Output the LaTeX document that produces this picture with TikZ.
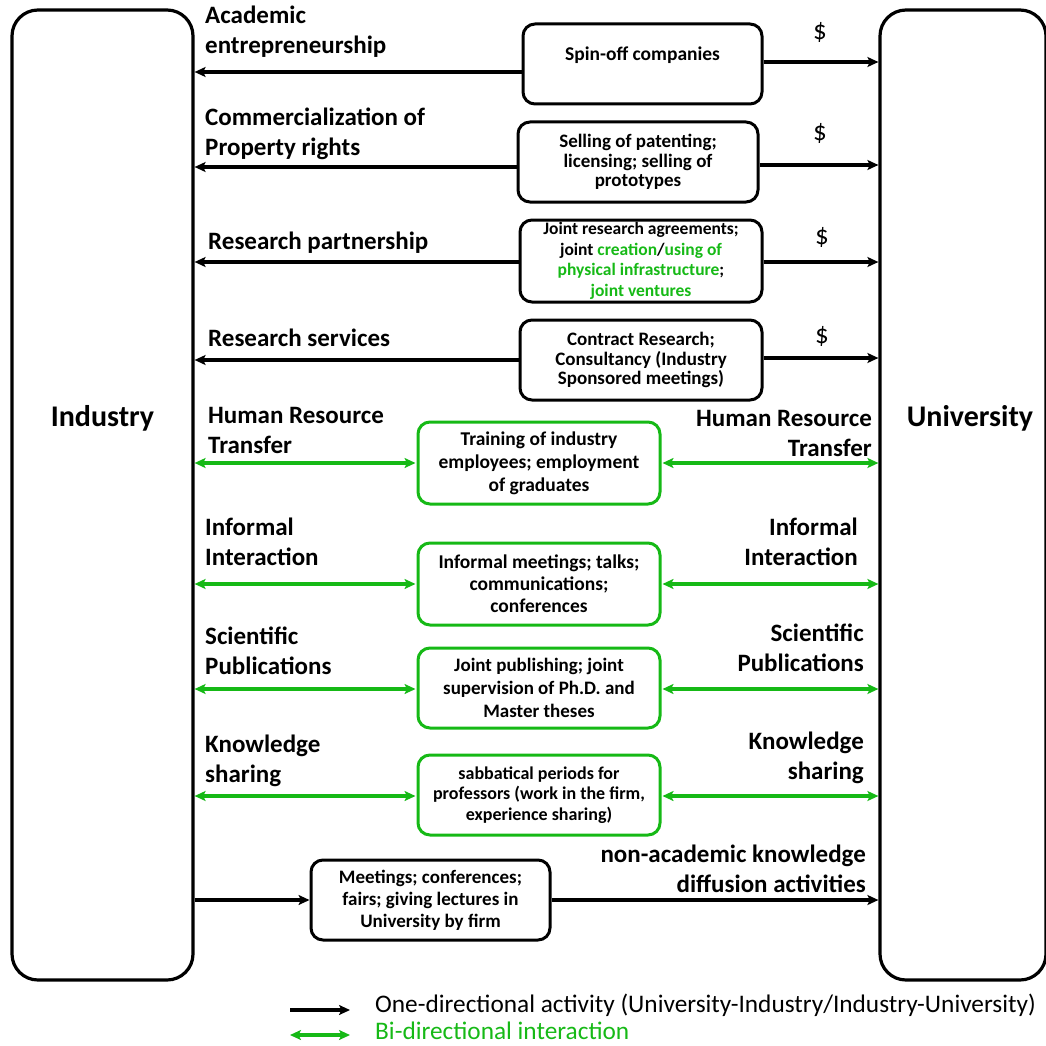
\documentclass[tikz,border=0pt]{standalone}
\usepackage{fontspec}
\setmainfont{Carlito}
\usetikzlibrary{arrows.meta}
\definecolor{grn}{RGB}{22,185,22}
\tikzset{
  bigbox/.style={draw=black, line width=3.2pt, rounded corners=26pt, minimum width=#1, inner sep=0pt},
  actbox/.style={draw=black, line width=3pt, rounded corners=12pt, minimum height=80pt, inner sep=2pt, align=center, font=\fontsize{19}{19.5}\selectfont\bfseries},
  gbox/.style={actbox, draw=grn},
  lbl/.style={font=\fontsize{25}{30}\selectfont\bfseries, inner sep=0pt},
  lbll/.style={lbl, anchor=north west, align=left},
  lblr/.style={lbl, anchor=north east, align=right},
  bigtxt/.style={font=\fontsize{30}{34}\selectfont\bfseries, inner sep=0pt},
  dollar/.style={font=\fontsize{27}{30}\selectfont, inner sep=0pt},
  one/.style={line width=3.4pt, -{Stealth[length=11pt,width=10pt,inset=2.5pt]}},
  two/.style={line width=3.4pt, draw=grn, {Stealth[length=11pt,width=10pt,inset=2.5pt]}-{Stealth[length=11pt,width=10pt,inset=2.5pt]}},
  leg/.style={font=\fontsize{25.3}{30}\selectfont, inner sep=0pt, anchor=west}
}
\begin{document}
\begin{tikzpicture}[x=1pt,y=-1pt]
\useasboundingbox (0,0) rectangle (1045,1046);
% main boxes
\node[bigbox=181pt, minimum height=970pt] (ind) at (102.5,495) {};
\node[bigbox=166pt, minimum height=970pt] (uni) at (963,495) {};
\node[bigtxt] (indt) at (102.5,418) {Industry};
\node[bigtxt] (unit) at (970,418) {University};

% activity boxes
\node[actbox, minimum width=239pt, font=\fontsize{19.5}{20}\selectfont\bfseries] (b1) at (642.5,64) {Spin-off companies\\\mbox{}};
\node[actbox, minimum width=240pt] (b2) at (638,162) {Selling of patenting;\\licensing; selling of\\prototypes};
\node[actbox, minimum width=242pt, minimum height=82pt, font=\fontsize{17.5}{20.5}\selectfont\bfseries] (b3) at (641,261) {Joint research agreements;\\joint \textcolor{grn}{creation}/\textcolor{grn}{using of}\\\textcolor{grn}{physical infrastructure};\\\textcolor{grn}{joint ventures}};
\node[actbox, minimum width=242pt] (b4) at (641,360) {Contract Research;\\Consultancy (Industry\\Sponsored meetings)};
\node[gbox, minimum width=242pt, minimum height=82pt, font=\fontsize{19.5}{23}\selectfont\bfseries] (g1) at (539,463) {Training of industry\\employees; employment\\of graduates};
\node[gbox, minimum width=242pt, minimum height=82pt, font=\fontsize{19.5}{22}\selectfont\bfseries] (g2) at (539,584) {Informal meetings; talks;\\communications;\\conferences};
\node[gbox, minimum width=242pt, font=\fontsize{19}{23}\selectfont\bfseries] (g3) at (539,688) {Joint publishing; joint\\supervision of Ph.D. and\\Master theses};
\node[gbox, minimum width=242pt, font=\fontsize{18}{20.5}\selectfont\bfseries] (g4) at (539,795) {sabbatical periods for\\professors (work in the firm,\\experience sharing)};
\node[actbox, minimum width=239pt, font=\fontsize{19}{22}\selectfont\bfseries] (b5) at (430.5,900) {Meetings; conferences;\\fairs; giving lectures in\\University by firm};

% left labels
\node[lbll] (l1) at (205,6) {Academic\\entrepreneurship};
\node[lbll] (l2) at (205,108) {Commercialization of\\Property rights};
\node[lbll] (l3) at (208,232) {Research partnership};
\node[lbll] (l4) at (208,329) {Research services};
\node[lbll] (l5) at (208,407) {Human Resource\\Transfer};
\node[lbll] (l6) at (205,518) {Informal\\Interaction};
\node[lbll] (l7) at (205,627) {Scientific\\Publications};
\node[lbll] (l8) at (205,735) {Knowledge\\sharing};
% right labels
\node[lblr] (r5) at (872,410) {Human Resource\\Transfer};
\node[lblr] (r6) at (858,518) {Informal\\Interaction};
\node[lblr] (r7) at (864,624) {Scientific\\Publications};
\node[lblr] (r8) at (864,732) {Knowledge\\sharing};
\node[lblr] (r9) at (866,845) {non-academic knowledge\\diffusion activities};
% dollars
\node[dollar] (d1) at (820,32) {\$};
\node[dollar] (d2) at (820,133) {\$};
\node[dollar] (d3) at (822,237) {\$};
\node[dollar] (d4) at (822,336) {\$};

% one-directional arrows
\draw[one] ([yshift=-8pt]b1.west) -- ([yshift=-8pt]b1.west -| ind.east);
\draw[one] ([yshift=2pt]b1.east) -- ([yshift=2pt]b1.east -| uni.west);
\draw[one] ([yshift=-5pt]b2.west) -- ([yshift=-5pt]b2.west -| ind.east);
\draw[one] ([yshift=-3pt]b2.east) -- ([yshift=-3pt]b2.east -| uni.west);
\draw[one] ([yshift=-1pt]b3.west) -- ([yshift=-1pt]b3.west -| ind.east);
\draw[one] ([yshift=-1pt]b3.east) -- ([yshift=-1pt]b3.east -| uni.west);
\draw[one] (b4.west) -- (b4.west -| ind.east);
\draw[one] ([yshift=2pt]b4.east) -- ([yshift=2pt]b4.east -| uni.west);
\draw[one] (b5.west -| ind.east) -- (b5.west);
\draw[one] (b5.east) -- (b5.east -| uni.west);
% bi-directional arrows
\draw[two] (g1.west -| ind.east) -- ([xshift=-1pt]g1.west);
\draw[two] ([xshift=1pt]g1.east) -- (g1.east -| uni.west);
\draw[two] (g2.west -| ind.east) -- ([xshift=-1pt]g2.west);
\draw[two] ([xshift=1pt]g2.east) -- (g2.east -| uni.west);
\draw[two] ([yshift=-1pt]g3.west -| ind.east) -- ([xshift=-1pt,yshift=-1pt]g3.west);
\draw[two] ([xshift=1pt,yshift=-1pt]g3.east) -- ([yshift=-1pt]g3.east -| uni.west);
\draw[two] ([yshift=-1pt]g4.west -| ind.east) -- ([xshift=-1pt,yshift=-1pt]g4.west);
\draw[two] ([xshift=1pt,yshift=-1pt]g4.east) -- ([yshift=-1pt]g4.east -| uni.west);

% legend
\coordinate (la1) at (290,1010);
\coordinate (la2) at (350,1010);
\coordinate (lb1) at (290,1035);
\coordinate (lb2) at (350,1035);
\draw[one] (la1) -- (la2);
\draw[two] (lb1) -- (lb2);
\node[leg] (leg1) at (375,1005) {One-directional activity (University-Industry/Industry-University)};
\node[leg, text=grn] (leg2) at (375,1031) {Bi-directional interaction};
\end{tikzpicture}
\end{document}
